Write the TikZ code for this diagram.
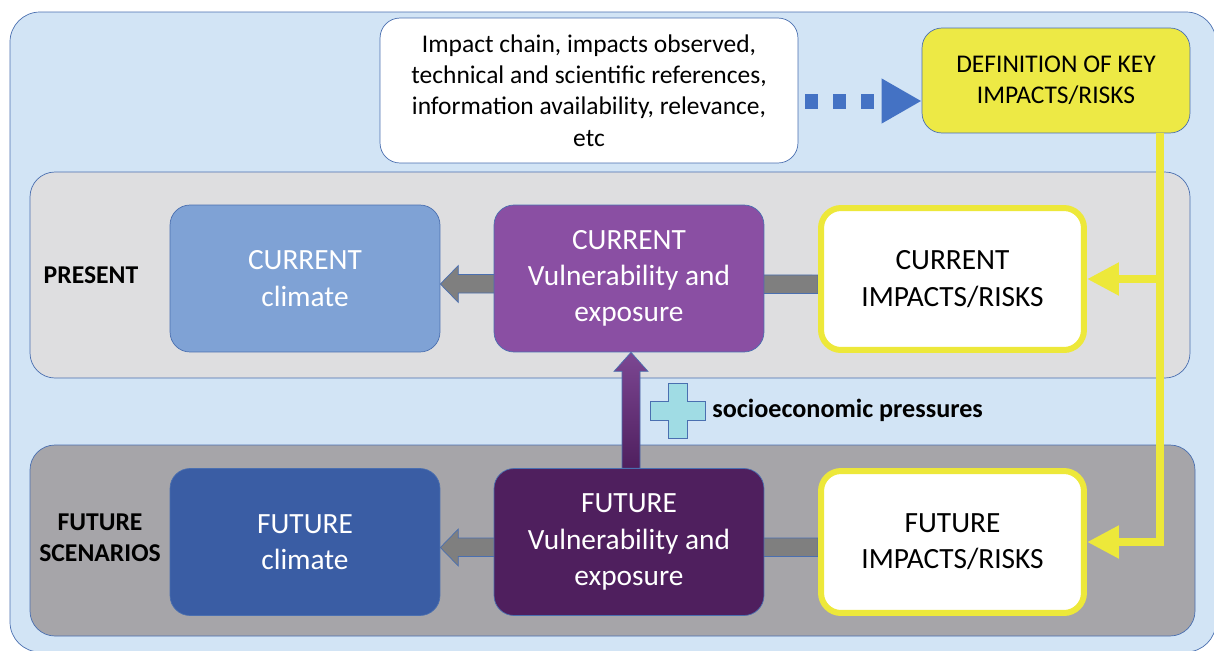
\documentclass[tikz,border=0pt]{standalone}
\usepackage{fontspec}
\setmainfont{Carlito}
\usetikzlibrary{arrows.meta,calc}

\definecolor{skyback}{HTML}{D2E4F5}
\definecolor{frameblue}{HTML}{4A6FB0}
\definecolor{presentgray}{HTML}{DEDEE0}
\definecolor{futuregray}{HTML}{A6A5A9}
\definecolor{curclim}{HTML}{7FA2D5}
\definecolor{curvuln}{HTML}{8A4FA3}
\definecolor{futclim}{HTML}{3A5DA4}
\definecolor{futvuln}{HTML}{4F1F5E}
\definecolor{keyyellow}{HTML}{EDE945}
\definecolor{linkyellow}{HTML}{EDE83A}
\definecolor{arrowblue}{HTML}{4472C4}
\definecolor{plusfill}{HTML}{A0DCE4}
\definecolor{shaftgray}{HTML}{7F7F7F}

\pgfdeclarelayer{back}
\pgfsetlayers{back,main}

\begin{document}
\begin{tikzpicture}[
            x=0.02cm, y=-0.02cm,
            box/.style={rectangle,draw=frameblue,rounded corners=0.4cm,align=center,
                minimum width=5.4cm,minimum height=2.94cm,text=white,
                font=\fontsize{16.7}{20.6}\selectfont},
            riskbox/.style={box,draw=linkyellow,line width=0.12cm,fill=white,text=black,
                minimum width=5.26cm,minimum height=2.84cm},
            notebox/.style={rectangle,draw=frameblue,rounded corners=0.4cm,align=center,
                font=\fontsize{14.5}{17.8}\selectfont},
            band/.style={draw=frameblue,rounded corners=0.5cm},
            lbl/.style={align=center,font=\bfseries\fontsize{14.6}{17.8}\selectfont},
            fatarrow/.style={draw=frameblue,fill=shaftgray,line width=0.4pt},
            ylink/.style={draw=linkyellow,line width=0.16cm,
                -{Triangle[length=0.64cm,width=0.62cm]}},
            dotarrow/.style={draw=arrowblue,line width=0.3cm,dash pattern=on 0.26cm off 0.3cm,
                -{Triangle[length=0.8cm,width=0.84cm]}}
        ]
        \useasboundingbox (0,0) rectangle (1214,650);

        % top row
        \node[notebox,fill=white,minimum width=8.36cm,minimum height=2.9cm] (info) at (589,90.5)
            {Impact chain, impacts observed,\\technical and scientific references,\\information availability, relevance,\\etc};
        \node[notebox,fill=keyyellow,minimum width=5.36cm,minimum height=2.1cm] (keydef) at (1056,80.5)
            {DEFINITION OF KEY\\IMPACTS/RISKS};

        % present
        \node[box,fill=curclim] (cclim) at (305,278.5) {CURRENT\\climate};
        \node[box,fill=curvuln] (cvuln) at (629,278.5) {CURRENT\\Vulnerability and\\exposure};
        \node[riskbox] (crisk) at (952.5,279) {CURRENT\\IMPACTS/RISKS};
        \node[lbl] (present) at (91,275) {PRESENT};

        % future
        \node[box,fill=futclim] (fclim) at (305,542) {FUTURE\\climate};
        \node[box,fill=futvuln] (fvuln) at (629,542) {FUTURE\\Vulnerability and\\exposure};
        \node[riskbox] (frisk) at (952.5,542) {FUTURE\\IMPACTS/RISKS};
        \node[lbl] (future) at (100,538) {FUTURE\\SCENARIOS};

        % socioeconomic pressures
        \coordinate (plus) at (677.5,411);
        \draw[draw=frameblue,fill=plusfill] ($(plus)+(-9.5,-27.5)$) -- ($(plus)+(9.5,-27.5)$)
            -- ($(plus)+(9.5,-9.5)$) -- ($(plus)+(27.5,-9.5)$) -- ($(plus)+(27.5,9.5)$)
            -- ($(plus)+(9.5,9.5)$) -- ($(plus)+(9.5,27.5)$) -- ($(plus)+(-9.5,27.5)$)
            -- ($(plus)+(-9.5,9.5)$) -- ($(plus)+(-27.5,9.5)$) -- ($(plus)+(-27.5,-9.5)$)
            -- ($(plus)+(-9.5,-9.5)$) -- cycle;
        \node[anchor=west,font=\bfseries\fontsize{14.9}{18}\selectfont,inner sep=0pt] (pressures)
            at (712,410) {socioeconomic pressures};

        % key impacts to the risk boxes
        \coordinate (drop) at ($(keydef.south)+(104,0)$);
        \draw[ylink] (drop) |- (frisk.east);
        \draw[ylink] (drop |- crisk.east) -- (crisk.east);

        \draw[dotarrow] ($(info.east)+(7,10.5)$) -- ($(keydef.west)+(0,20.5)$);

        \begin{pgfonlayer}{back}
            \draw[draw=frameblue,fill=skyback,rounded corners=0.6cm] (10,12) rectangle (1216,652);
            \draw[band,fill=presentgray] (30,172) rectangle (1190,378);
            \draw[band,fill=futuregray] (30,445) rectangle (1195,636);
            % gray arrows behind the vulnerability boxes
            \foreach \risk/\clim in {crisk/cclim,frisk/fclim}
                \draw[fatarrow] ($(\risk.west)+(0,-4)$) -- ($(\clim.east)+(18,-4)$)
                    -- ($(\clim.east)+(18,-13)$) -- ($(\clim.east)+(0,5.5)$)
                    -- ($(\clim.east)+(18,24)$) -- ($(\clim.east)+(18,14.5)$)
                    -- ($(\risk.west)+(0,14.5)$) -- cycle;
            % purple arrow up
            \shadedraw[draw=frameblue,top color=curvuln!90!black,bottom color=futvuln]
                ($(fvuln.north)+(-7,0)$) -- ($(cvuln.south)+(-7,19)$)
                -- ($(cvuln.south)+(-15,19)$) -- ($(cvuln.south)+(2,0)$)
                -- ($(cvuln.south)+(19,19)$) -- ($(cvuln.south)+(11,19)$)
                -- ($(fvuln.north)+(11,0)$) -- cycle;
        \end{pgfonlayer}
    \end{tikzpicture}
\end{document}
